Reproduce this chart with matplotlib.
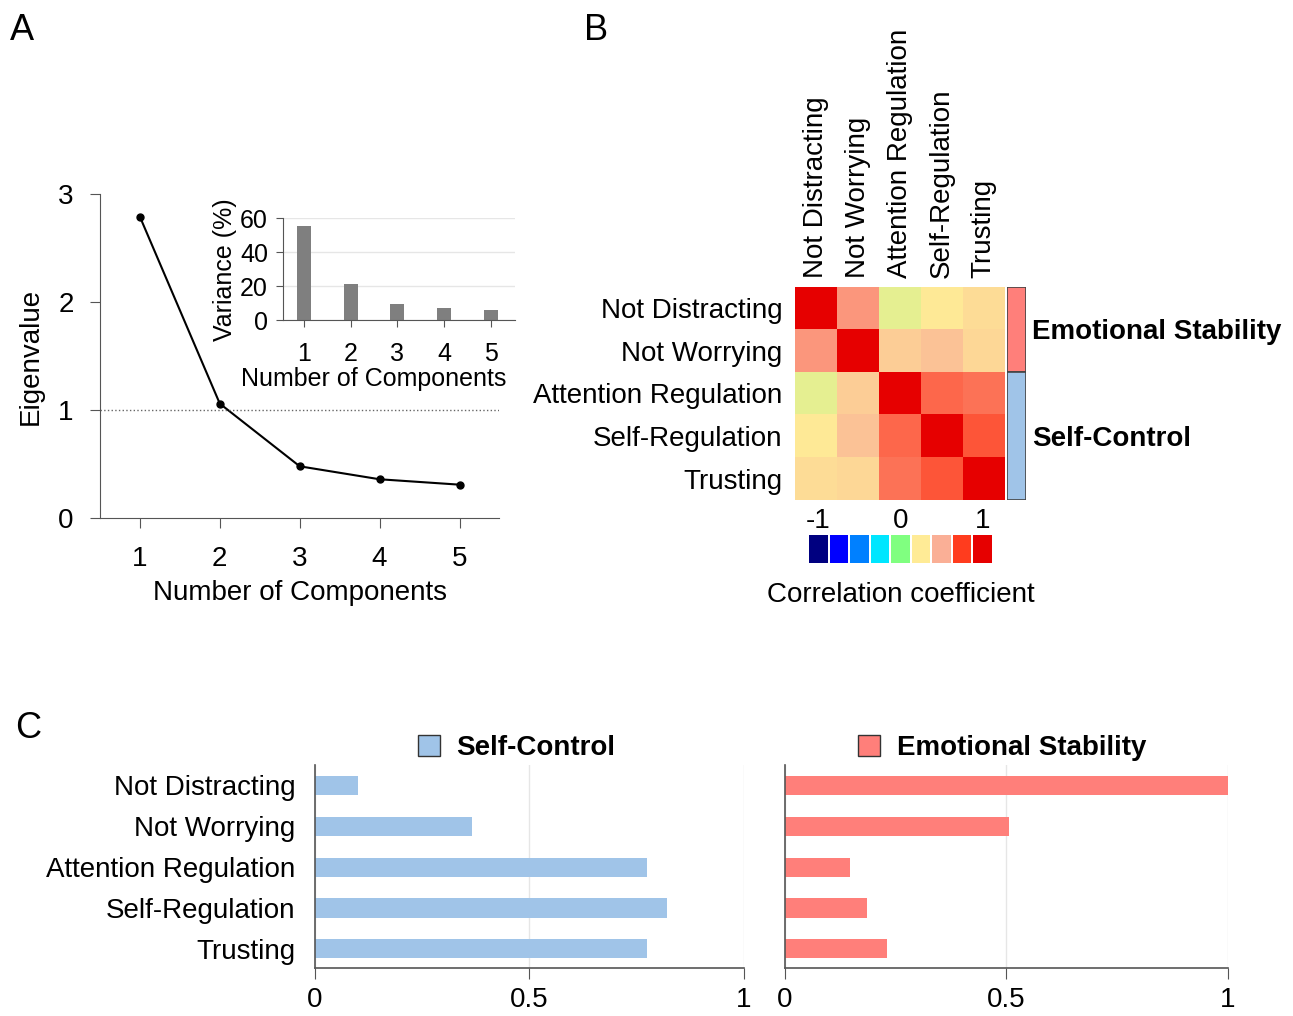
import matplotlib.pyplot as plt
import numpy as np
from matplotlib.colors import LinearSegmentedColormap
from matplotlib.patches import Patch

plt.rcParams['font.family'] = ['Liberation Sans', 'DejaVu Sans']
plt.rcParams['font.size'] = 20

# data
components = [1, 2, 3, 4, 5]
eigenvalues = [2.79, 1.06, 0.48, 0.36, 0.31]
variance = [55.6, 21.2, 9.6, 7.2, 6.2]

items = ['Not Distracting', 'Not Worrying', 'Attention Regulation', 'Self-Regulation', 'Trusting']
corr = [[1.00, 0.55, 0.20, 0.25, 0.31],
        [0.55, 1.00, 0.37, 0.42, 0.33],
        [0.20, 0.37, 1.00, 0.65, 0.63],
        [0.25, 0.42, 0.65, 1.00, 0.69],
        [0.31, 0.33, 0.63, 0.69, 1.00]]
scale_values = [-1, -0.75, -0.5, -0.25, 0, 0.25, 0.5, 0.75, 1]
scale_colors = ['#000080', '#0000ff', '#0080ff', '#00e6ff', '#80ff80',
                '#ffeb96', '#faaf96', '#ff3c1e', '#e60000']
groups = ['Emotional Stability', 'Self-Control']
group_sizes = [2, 3]

self_control = [0.10, 0.365, 0.775, 0.82, 0.775]
emotional = [1.00, 0.505, 0.146, 0.186, 0.23]

blue = '#a0c4e8'
red = '#ff7f7a'
spine_col = '#555555'

fig = plt.figure(figsize=(12.93, 10.16), dpi=100)

# ---- A: scree plot
ax = fig.add_axes([0.0773, 0.490, 0.309, 0.319])
ax.plot(components, eigenvalues, color='black', lw=1.5, marker='o', ms=5)
ax.axhline(1, ls=':', color='#666666', lw=1)
ax.set_xlim(0.5, 5.5)
ax.set_ylim(0, 3)
ax.set_xticks(components)
ax.set_yticks([0, 1, 2, 3])
ax.set_xlabel('Number of Components', labelpad=6)
ax.set_ylabel('Eigenvalue', labelpad=10)
for s in ['top', 'right']:
    ax.spines[s].set_visible(False)
for s in ['left', 'bottom']:
    ax.spines[s].set_color(spine_col)
ax.tick_params(color=spine_col, length=7)
ax.tick_params(axis='x', pad=13)
ax.tick_params(axis='y', pad=12)

# inset: variance explained
ins = fig.add_axes([0.219, 0.685, 0.179, 0.100])
ins.bar(components, variance, width=0.3, color='#7f7f7f')
ins.set_xlim(0.55, 5.51)
ins.set_ylim(0, 60)
ins.set_yticks([0, 20, 40, 60])
ins.set_xticks(components)
ins.yaxis.grid(True, color='#e6e6e6', lw=1)
ins.set_axisbelow(True)
ins.set_xlabel('Number of Components', fontsize=18, labelpad=4)
ins.xaxis.set_label_coords(0.39, -0.46)
ins.set_ylabel('Variance (%)', fontsize=18, labelpad=2)
for s in ['top', 'right']:
    ins.spines[s].set_visible(False)
for s in ['left', 'bottom']:
    ins.spines[s].set_color(spine_col)
ins.tick_params(labelsize=18, color=spine_col, length=5, pad=11)
ins.tick_params(axis='y', pad=6)

# ---- B: correlation heatmap
cmap = LinearSegmentedColormap.from_list('corr', scale_colors)
hm = fig.add_axes([0.615, 0.508, 0.162, 0.2097])
hm.imshow(np.array(corr), cmap=cmap, vmin=-1, vmax=1, aspect='auto')
hm.set_xticks(range(len(items)))
hm.set_xticklabels(items, rotation=90)
hm.set_yticks(range(len(items)))
hm.set_yticklabels(items)
hm.xaxis.tick_top()
hm.tick_params(length=0, pad=6)
hm.tick_params(axis='y', pad=9)
for s in hm.spines.values():
    s.set_visible(False)

# group bar
gx = fig.add_axes([0.7788, 0.508, 0.0147, 0.2097])
start = 0
for name, size, col in zip(groups, group_sizes, [red, blue]):
    gx.bar(0, size, bottom=start, width=1, color=col, edgecolor='#444444', lw=1.2)
    gx.text(0.82, start + size / 2, name, fontweight='bold', va='center_baseline', ha='left')
    start += size
gx.set_xlim(-0.5, 0.5)
gx.set_ylim(sum(group_sizes), 0)
gx.axis('off')

# discrete colour scale
cb = fig.add_axes([0.6249, 0.4459, 0.1431, 0.0276])
cb.bar(range(len(scale_values)), 1, width=0.9, color=scale_colors)
cb.set_xlim(-0.5, len(scale_values) - 0.5)
cb.set_ylim(0, 1)
cb.set_yticks([])
cb.set_xticks([0, 4, 8])
cb.set_xticklabels([str(scale_values[i]) for i in [0, 4, 8]])
cb.xaxis.tick_top()
cb.xaxis.set_label_position('bottom')
cb.set_xlabel('Correlation coefficient', labelpad=14)
cb.tick_params(length=0, pad=1)
for s in cb.spines.values():
    s.set_visible(False)

# ---- C: loadings
y = np.arange(len(items))
for left, vals, col, name in [(0.2436, self_control, blue, 'Self-Control'),
                              (0.6071, emotional, red, 'Emotional Stability')]:
    width = 0.3318 if name == 'Self-Control' else 0.3426
    bx = fig.add_axes([left, 0.0472, width, 0.1998])
    bx.barh(y, vals, height=0.47, color=col)
    bx.set_xlim(0, 1)
    bx.set_ylim(4.47, -0.5)
    bx.set_xticks([0, 0.5, 1])
    bx.set_xticklabels(['0', '0.5', '1'])
    bx.xaxis.grid(True, color='#e6e6e6', lw=1)
    bx.set_axisbelow(True)
    bx.set_yticks(y)
    if name == 'Self-Control':
        bx.set_yticklabels(items)
        anchor = (0.47, 0.95)
    else:
        bx.set_yticklabels([])
        anchor = (0.49, 0.95)
    for s in ['top', 'right']:
        bx.spines[s].set_visible(False)
    for s in ['left', 'bottom']:
        bx.spines[s].set_color(spine_col)
        bx.spines[s].set_linewidth(1.2)
    bx.tick_params(axis='y', length=0, pad=14)
    bx.tick_params(axis='x', color=spine_col, length=8, pad=6)
    leg = bx.legend(handles=[Patch(facecolor=col, edgecolor='#333333', label=name)],
                    loc='lower center', bbox_to_anchor=anchor, frameon=False,
                    handlelength=0.8, handleheight=0.8, handletextpad=0.6,
                    borderaxespad=0.1, prop={'weight': 'bold', 'size': 20})

# panel letters
fig.text(0.008, 0.97, 'A', fontsize=26, va='center')
fig.text(0.452, 0.97, 'B', fontsize=26, va='center')
fig.text(0.012, 0.283, 'C', fontsize=26, va='center')

fig.savefig('out.png', dpi=100)
